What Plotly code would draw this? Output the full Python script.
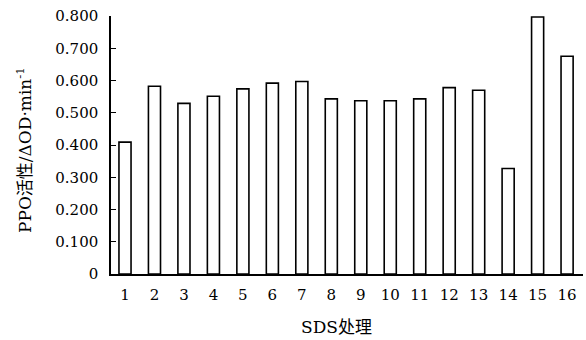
import plotly.graph_objects as go

categories = [str(i) for i in range(1, 17)]
values = [0.409, 0.582, 0.529, 0.551, 0.574, 0.592, 0.597, 0.543,
          0.537, 0.537, 0.543, 0.578, 0.570, 0.327, 0.797, 0.675]
y_tick_vals = [0, 0.1, 0.2, 0.3, 0.4, 0.5, 0.6, 0.7, 0.8]
y_tick_text = ["0", "0.100", "0.200", "0.300", "0.400", "0.500", "0.600", "0.700", "0.800"]

xpos = list(range(1, len(categories) + 1))
font_fam = "DejaVu Serif, Noto Sans CJK SC, serif"

fig = go.Figure(go.Bar(
    x=xpos, y=values, width=0.41,
    marker=dict(color="white", line=dict(color="black", width=1.6)),
))

fig.update_layout(
    width=586, height=340,
    margin=dict(l=111, r=3, t=16, b=66, autoexpand=False),
    paper_bgcolor="white", plot_bgcolor="white",
    showlegend=False,
    font=dict(family=font_fam, size=15, color="black"),
    annotations=[
        dict(
            text="SDS处理", xref="paper", yref="paper",
            x=0.477, y=-0.205, xanchor="center", yanchor="middle",
            showarrow=False, font=dict(size=17, family=font_fam),
        ),
        dict(
            text="PPO活性/ΔOD·min<sup>-1</sup>", xref="paper", yref="paper",
            x=(24 - 111) / 472, y=(274 - 150) / 258, xanchor="center", yanchor="middle",
            textangle=-90, showarrow=False, font=dict(size=17, family=font_fam),
        ),
    ],
)
fig.update_xaxes(
    range=[0.525, 16.54], tickvals=xpos, ticktext=categories,
    showline=True, linecolor="black", linewidth=1.5,
    ticks="", showgrid=False, zeroline=False, automargin=False,
    ticklabelstandoff=6,
    tickfont=dict(size=15, family=font_fam),
)
fig.update_yaxes(
    range=[0, 0.8], tickvals=y_tick_vals, ticktext=y_tick_text,
    showline=True, linecolor="black", linewidth=1.5,
    ticks="inside", ticklen=5, tickwidth=1.2, tickcolor="black",
    showgrid=False, zeroline=False, automargin=False,
    ticklabelstandoff=8,
    tickfont=dict(size=15, family=font_fam),
)

fig.write_html("out.html", config={"displayModeBar": False},
               post_script="document.body.style.margin='0';")
